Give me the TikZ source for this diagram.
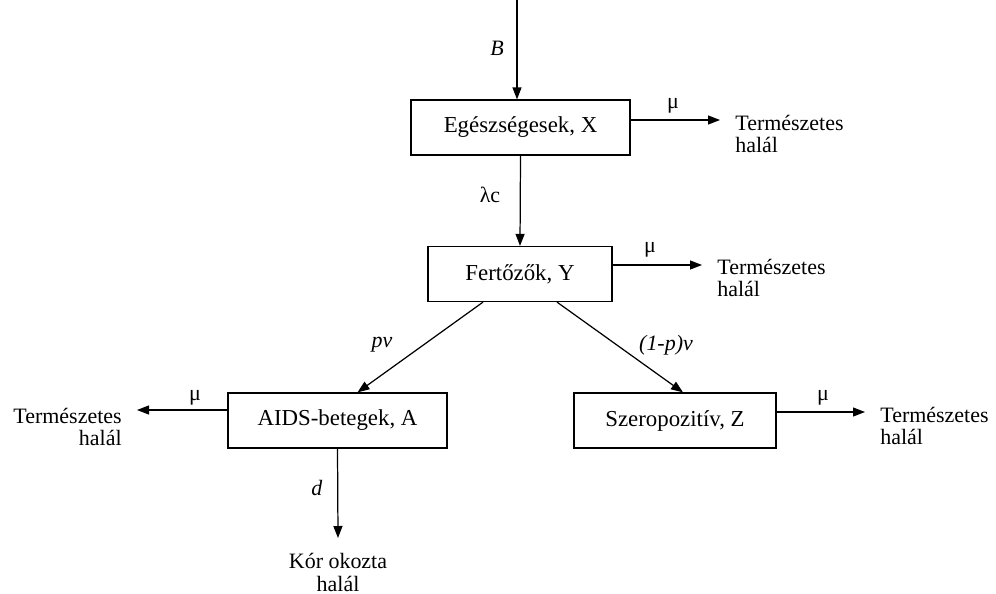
\documentclass[tikz,border=0pt]{standalone}
\usepackage{fontspec}
\setmainfont{Liberation Serif}
\usetikzlibrary{arrows.meta, positioning}

\begin{document}
\begin{tikzpicture}[x=0.02cm, y=-0.02cm,
    every node/.style={font=\fontsize{12.5}{13}\selectfont},
    box/.style={draw, line width=0.7pt, minimum height=1.1cm, inner sep=0pt,
        font=\fontsize{13}{13}\selectfont},
    flow/.style={line width=0.7pt, -{Triangle[length=2.4mm, width=1.8mm]}},
    death/.style={inner xsep=0.3cm, inner ysep=0pt}]

    \useasboundingbox (0, 0) rectangle (996, 594);

    % Dobozok
    \node[box, minimum width=4.38cm] (X) at (520.5, 127.5) {Egészségesek, X};
    \node[box, minimum width=3.68cm] (Y) at (520, 274) {Fertőzők, Y};
    \node[box, minimum width=4.38cm] (A) at (337.5, 420.5) {AIDS-betegek, A};
    \node[box, minimum width=4.04cm] (Z) at (675, 420.5) {Szeropozitív, Z};

    % Természetes halál
    \node[death, anchor=west, align=left] (dX) at (720, 134) {Természetes\\halál};
    \node[death, anchor=west, align=left] (dY) at (702, 278) {Természetes\\halál};
    \node[death, anchor=east, align=right] (dA) at (137, 427) {Természetes\\halál};
    \node[death, anchor=west, align=left] (dZ) at (865, 426) {Természetes\\halál};

    % Kór okozta halál
    \node[death, anchor=north, align=center] (kor) at (338, 553) {Kór okozta\\halál};

    % Beáramlás
    \coordinate (top) at (517, 0);
    \draw[flow] (top) -- (top |- X.north);
    \node (lB) at (497, 48) {\textit{B}};

    % X -> Y
    \draw[flow] (X.south) -- (Y.north);
    \node (llc) at (490, 195) {λc};

    % Y -> A, Y -> Z
    \draw[flow] ([xshift=-0.74cm]Y.south) -- ([xshift=0.4cm]A.north);
    \node (lpv) at (382, 345) {\textit{pv}};
    \draw[flow] ([xshift=0.74cm]Y.south) -- ([xshift=0.16cm]Z.north);
    \node (lqv) at (666, 345) {\textit{(1-p)v}};

    % Halálozás, mu
    \draw[flow] ([yshift=0.15cm]X.east) -- ([yshift=0.15cm]X.east -| dX.west);
    \node (lmX) at (673, 106) {μ};
    \draw[flow] ([yshift=0.18cm]Y.east) -- ([yshift=0.18cm]Y.east -| dY.west);
    \node (lmY) at (650, 250) {μ};
    \draw[flow] ([yshift=0.21cm]A.west) -- ([yshift=0.21cm]A.west -| dA.east);
    \node (lmA) at (195, 398) {μ};
    \draw[flow] ([yshift=0.17cm]Z.east) -- ([yshift=0.17cm]Z.east -| dZ.west);
    \node (lmZ) at (823, 398) {μ};

    % A -> kór okozta halál
    \draw[flow] (A.south) -- ([yshift=0.3cm]kor.north);
    \node (ld) at (317, 488) {\textit{d}};

\end{tikzpicture}
\end{document}
